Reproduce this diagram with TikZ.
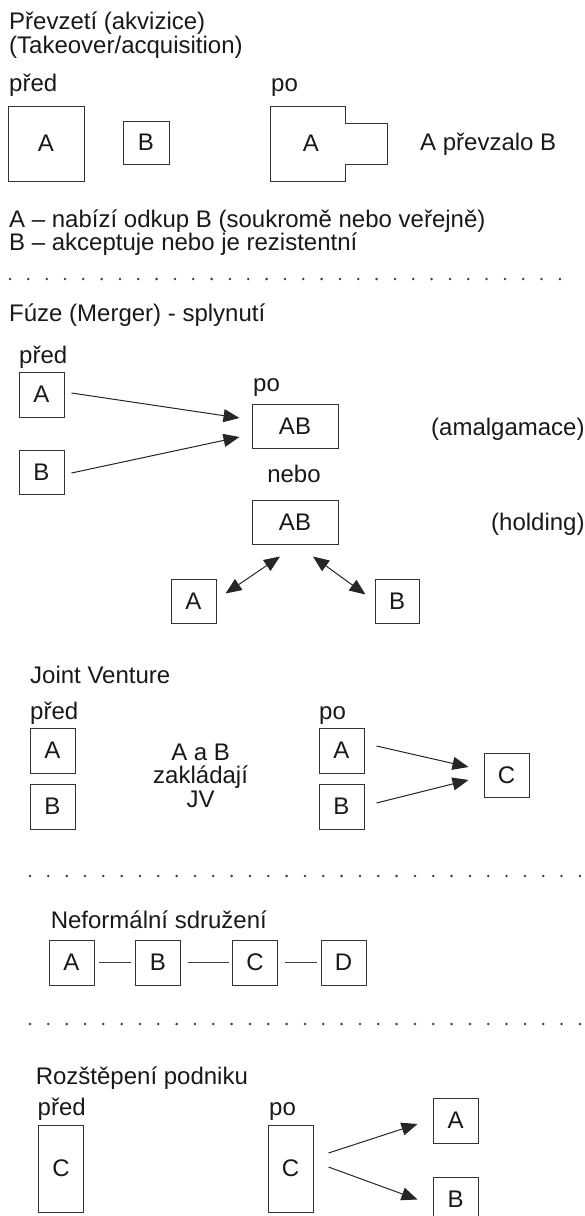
\documentclass[tikz,border=0pt]{standalone}
\usepackage{fontspec}
\setmainfont{Liberation Sans}
\usetikzlibrary{arrows.meta,calc}
\newcommand\fsz{\fontsize{24}{24}\selectfont}
\tikzset{
  bx/.style={draw=black!80, line width=1pt, inner sep=0pt, font=\fsz, text=black!90},
  lbl/.style={anchor=base west, inner sep=0pt, font=\fsz, text=black!90},
  lblc/.style={anchor=base, inner sep=0pt, font=\fsz, text=black!90},
  shapeline/.style={draw=black!80, line width=1pt},
  tip/.style={},
  arr/.style={line width=1pt, draw=black!85, -{Triangle[length=16pt,width=13pt]}},
  darr/.style={line width=1pt, draw=black!85, {Triangle[length=16pt,width=13pt]}-{Triangle[length=16pt,width=13pt]}},
  link/.style={line width=0.8pt, draw=black!75},
  dotrow/.style={line width=2.8pt, draw=black!75, line cap=round, dash pattern=on 0pt off 18.33pt},
}
\begin{document}
\begin{tikzpicture}[x=1pt,y=-1pt]
\useasboundingbox (0,0) rectangle (585,1216);

% ---------- Section 1: Prevzeti
\node[lbl] (t1a) at (9,29.3) {Převzetí (akvizice)};
\node[lbl] (t1b) at (9,53) {(Takeover/acquisition)};
\node[lbl] (pred1) at (9,91) {před};
\node[lbl] (po1) at (271,91) {po};
\node[bx, minimum width=76pt, minimum height=75pt] (sA) at (46,143.5) {A};
\node[bx, minimum width=46pt, minimum height=43pt] (sB) at (146,142.5) {B};
\draw[shapeline] (270,106) -- (345,106) -- (345,123) -- (387,123) -- (387,164) -- (345,164) -- (345,181) -- (270,181) -- cycle;
\node[inner sep=0pt, font=\fsz, text=black!90] (mA) at (311,143.5) {A};
\node[lbl] (prevzalo) at (420,150) {A převzalo B};
\node[lbl] (n1) at (9,227) {A – nabízí odkup B (soukromě nebo veřejně)};
\node[lbl] (n2) at (9,250) {B – akceptuje nebo je rezistentní};
\draw[dotrow] (10,279) -- (560,279);

% ---------- Section 2: Fuze
\node[lbl] (t2) at (9,321.7) {Fúze (Merger) - splynutí};
\node[lbl] (pred2) at (19,363) {před};
\node[bx, minimum width=45pt, minimum height=45pt] (fA) at (41.5,394.5) {A};
\node[bx, minimum width=45pt, minimum height=44pt] (fB) at (41.5,472) {B};
\node[lbl] (po2) at (253,391.7) {po};
\node[bx, minimum width=86pt, minimum height=44pt] (AB1) at (295,426) {AB};
\node[lbl] (amal) at (431,435) {(amalgamace)};
\node[lblc] (nebo) at (294,482.7) {nebo};
\node[bx, minimum width=86pt, minimum height=44pt] (AB2) at (295,522) {AB};
\node[lbl] (hold) at (491,530) {(holding)};
\node[bx, minimum width=45pt, minimum height=44pt] (hA) at (193.5,601) {A};
\node[bx, minimum width=44pt, minimum height=44pt] (hB) at (397,601) {B};
\draw[arr] ($(fA.east)+(7,-1.5)$) -- ($(AB1.west)+(-12,-8)$);
\draw[arr] ($(fB.east)+(7,1)$) -- ($(AB1.west)+(-12,11)$);
\draw[darr] ($(hA.north east)+(9,15)$) -- ($(AB2.south)+(-15,12)$);
\draw[darr] ($(AB2.south)+(18,12)$) -- ($(hB.north west)+(-9,16)$);

% ---------- Section 3: Joint Venture
\node[lbl] (t3) at (30,683) {Joint Venture};
\node[lbl] (pred3) at (30,719.3) {před};
\node[lbl] (po3) at (319,719.3) {po};
\node[bx, minimum width=45pt, minimum height=45pt] (jA1) at (52.5,750.5) {A};
\node[bx, minimum width=45pt, minimum height=45pt] (jB1) at (52.5,806.5) {B};
\node[lblc] (jv1) at (200.6,760) {A a B};
\node[lblc] (jv2) at (200.6,783.5) {zakládají};
\node[lblc] (jv3) at (200.6,807) {JV};
\node[bx, minimum width=45pt, minimum height=45pt] (jA2) at (341.5,750.5) {A};
\node[bx, minimum width=45pt, minimum height=45pt] (jB2) at (341.5,806.5) {B};
\node[bx, minimum width=45pt, minimum height=44pt] (jC) at (506.5,775) {C};
\draw[arr] ($(jA2.east)+(12,-4.5)$) -- ($(jC.west)+(-15,-8)$);
\draw[arr] ($(jB2.east)+(12,-3.5)$) -- ($(jC.west)+(-15,5)$);
\draw[dotrow] (30,876) -- (581,876);

% ---------- Section 4: Neformalni sdruzeni
\node[lbl] (t4) at (50.6,928) {Neformální sdružení};
\node[bx, minimum width=45pt, minimum height=45pt] (nA) at (71.5,962.5) {A};
\node[bx, minimum width=45pt, minimum height=45pt] (nB) at (158,962.5) {B};
\node[bx, minimum width=45pt, minimum height=45pt] (nC) at (255,962.5) {C};
\node[bx, minimum width=45pt, minimum height=45pt] (nD) at (343.5,962.5) {D};
\draw[link, shorten <=4pt, shorten >=4pt] (nA) -- (nB);
\draw[link, shorten <=7pt, shorten >=3pt] (nB) -- (nC);
\draw[link, shorten <=7pt, shorten >=4pt] (nC) -- (nD);
\draw[dotrow] (30,1024) -- (581,1024);

% ---------- Section 5: Rozstepeni
\node[lbl] (t5) at (35.6,1084) {Rozštěpení podniku};
\node[lbl] (pred5) at (37.5,1115) {před};
\node[lbl] (po5) at (269,1115) {po};
\node[bx, minimum width=45pt, minimum height=87pt] (rC1) at (61,1168.5) {C};
\node[bx, minimum width=45pt, minimum height=87pt] (rC2) at (290.5,1168.5) {C};
\node[bx, minimum width=45pt, minimum height=45pt] (rA) at (455.5,1120.5) {A};
\node[bx, minimum width=45pt, minimum height=45pt] (rB) at (455.5,1199.5) {B};
\draw[arr] ($(rC2.east)+(15,-15.5)$) -- ($(rA.west)+(-15,3.5)$);
\draw[arr] ($(rC2.east)+(15,-1.5)$) -- ($(rB.west)+(-15,0)$);
\end{tikzpicture}
\end{document}
